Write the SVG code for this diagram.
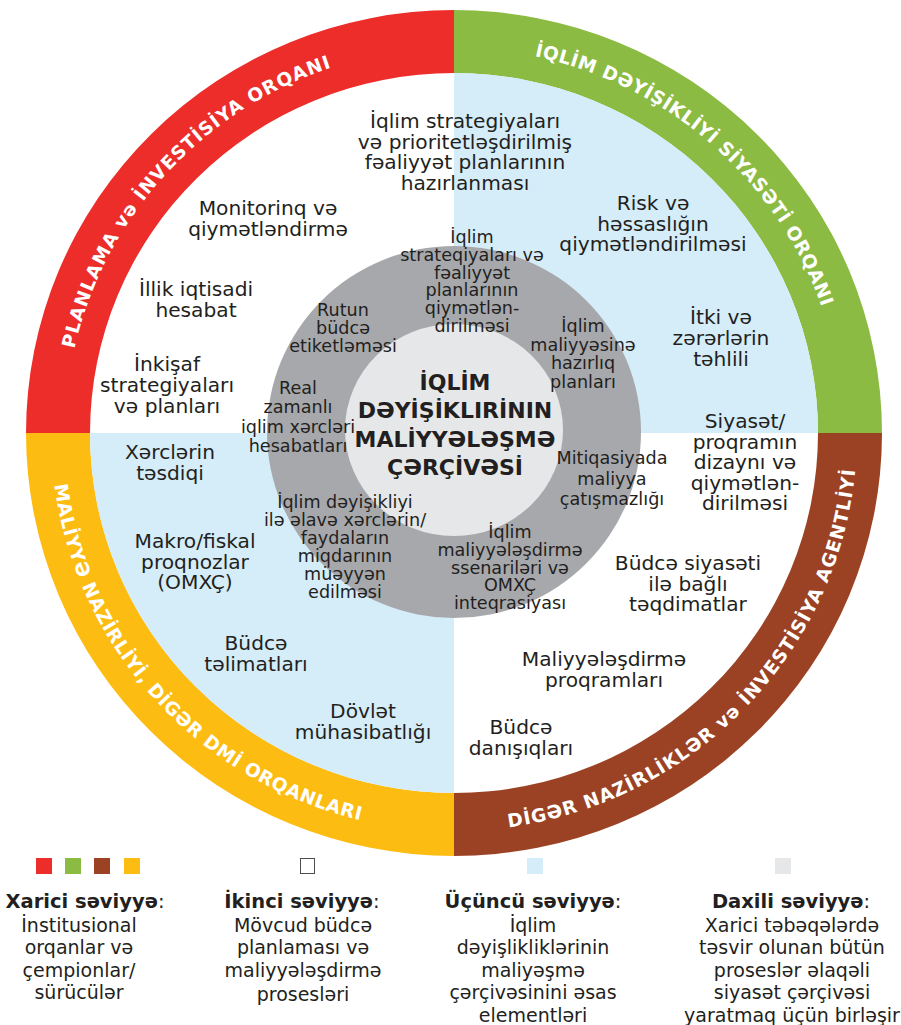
<svg xmlns="http://www.w3.org/2000/svg" width="901" height="1025" viewBox="0 0 901 1025">
<style>
.q{font-family:"DejaVu Sans","Liberation Sans",sans-serif;font-size:20.2px;fill:#231f20;text-anchor:middle}
.g{font-family:"DejaVu Sans","Liberation Sans",sans-serif;font-size:17.6px;fill:#231f20;text-anchor:middle}
.t{font-family:"DejaVu Sans","Liberation Sans",sans-serif;font-size:22px;font-weight:bold;fill:#231f20;text-anchor:middle}
.r{font-family:"DejaVu Sans","Liberation Sans",sans-serif;font-size:18.5px;font-weight:bold;fill:#ffffff;text-anchor:middle}
.lh{font-family:"DejaVu Sans","Liberation Sans",sans-serif;font-size:19.5px;font-weight:bold;fill:#231f20;text-anchor:middle}
.lb{font-family:"DejaVu Sans","Liberation Sans",sans-serif;font-size:19px;fill:#231f20;text-anchor:middle}
</style>
<defs>
<path id="pRed" d="M 65,433 A 389,385 0 0 1 454,48"/>
<path id="pGreen" d="M 454,48 A 389,385 0 0 1 843,433"/>
<path id="pYellow" d="M 51,433 A 403,398 0 0 0 454,831"/>
<path id="pBrown" d="M 454,831 A 403,398 0 0 0 857,433"/>
</defs>
<rect width="901" height="1025" fill="#ffffff"/>
<g id="ring">
<path id="ring-red" d="M 26,433 A 428,423 0 0 1 454,10 L 454,73 A 364,360 0 0 0 90,433 Z" fill="#ec2d2a"/>
<path id="ring-green" d="M 454,10 A 428,423 0 0 1 882,433 L 818,433 A 364,360 0 0 0 454,73 Z" fill="#8cbb43"/>
<path id="ring-brown" d="M 882,433 A 428,423 0 0 1 454,856 L 454,793 A 364,360 0 0 0 818,433 Z" fill="#9c4224"/>
<path id="ring-yellow" d="M 454,856 A 428,423 0 0 1 26,433 L 90,433 A 364,360 0 0 0 454,793 Z" fill="#fdbc12"/>
</g>
<g id="quadrants">
<path d="M 454,433 L 454,73 A 364,360 0 0 1 818,433 Z" fill="#d5ecf9"/>
<path d="M 454,433 L 90,433 A 364,360 0 0 0 454,793 Z" fill="#d5ecf9"/>
</g>
<g id="core">
<ellipse cx="454" cy="432" rx="187" ry="186" fill="#a7a8ab"/>
<ellipse cx="454" cy="430" rx="109" ry="106" fill="#e6e7e8"/>
</g>
<g id="ring-labels">
<text class="r"><textPath href="#pRed" startOffset="46.7%" textLength="398" lengthAdjust="spacing">PLANLAMA və İNVESTİSİYA ORQANI</textPath></text>
<text class="r"><textPath href="#pGreen" startOffset="46.1%" textLength="398" lengthAdjust="spacing">İQLİM DƏYİŞİKLİYİ SİYASƏTİ ORQANI</textPath></text>
<text class="r"><textPath href="#pYellow" startOffset="46.6%" textLength="482" lengthAdjust="spacing">MALİYYƏ NAZİRLİYİ, DİGƏR DMİ ORQANLARI</textPath></text>
<text class="r"><textPath href="#pBrown" startOffset="51.4%" textLength="537" lengthAdjust="spacing">DİGƏR NAZİRLİKLƏR və İNVESTİSİYA AGENTLİYİ</textPath></text>
</g>
<g id="title"><text class="t" y="390"><tspan x="455">İQLİM</tspan><tspan x="455" dy="28.3">DƏYİŞİKLIRİNIN</tspan><tspan x="455" dy="28.3">MALİYYƏLƏŞMƏ</tspan><tspan x="455" dy="28.3">ÇƏRÇİVƏSİ</tspan></text></g>
<g id="n-q1"><text class="q" y="128"><tspan x="465">İqlim strategiyaları</tspan><tspan x="465" dy="20.5">və prioritetləşdirilmiş</tspan><tspan x="465" dy="20.5">fəaliyyət planlarının</tspan><tspan x="465" dy="20.5">hazırlanması</tspan></text></g>
<g id="n-q2"><text class="q" y="215"><tspan x="268">Monitorinq və</tspan><tspan x="268" dy="21">qiymətləndirmə</tspan></text></g>
<g id="n-q3"><text class="q" y="296"><tspan x="196">İllik iqtisadi</tspan><tspan x="196" dy="20.5">hesabat</tspan></text></g>
<g id="n-q4"><text class="q" y="371"><tspan x="167">İnkişaf</tspan><tspan x="167" dy="21">strategiyaları</tspan><tspan x="167" dy="21">və planları</tspan></text></g>
<g id="n-q5"><text class="q" y="210"><tspan x="653">Risk və</tspan><tspan x="653" dy="20.5">həssaslığın</tspan><tspan x="653" dy="20.5">qiymətləndirilməsi</tspan></text></g>
<g id="n-q6"><text class="q" y="324"><tspan x="721">İtki və</tspan><tspan x="721" dy="21">zərərlərin</tspan><tspan x="721" dy="21">təhlili</tspan></text></g>
<g id="n-q7"><text class="q" y="428"><tspan x="745">Siyasət/</tspan><tspan x="745" dy="20.5">proqramın</tspan><tspan x="745" dy="20.5">dizaynı və</tspan><tspan x="745" dy="20.5">qiymətlən-</tspan><tspan x="745" dy="20.5">dirilməsi</tspan></text></g>
<g id="n-q8"><text class="q" y="459"><tspan x="170">Xərclərin</tspan><tspan x="170" dy="20.5">təsdiqi</tspan></text></g>
<g id="n-q9"><text class="q" y="548"><tspan x="195">Makro/fiskal</tspan><tspan x="195" dy="20.5">proqnozlar</tspan><tspan x="195" dy="20.5">(OMXÇ)</tspan></text></g>
<g id="n-q10"><text class="q" y="650"><tspan x="256">Büdcə</tspan><tspan x="256" dy="20.5">təlimatları</tspan></text></g>
<g id="n-q11"><text class="q" y="718"><tspan x="363">Dövlət</tspan><tspan x="363" dy="21">mühasibatlığı</tspan></text></g>
<g id="n-q12"><text class="q" y="570"><tspan x="688">Büdcə siyasəti</tspan><tspan x="688" dy="20.5">ilə bağlı</tspan><tspan x="688" dy="20.5">təqdimatlar</tspan></text></g>
<g id="n-q13"><text class="q" y="666"><tspan x="604">Maliyyələşdirmə</tspan><tspan x="604" dy="21">proqramları</tspan></text></g>
<g id="n-q14"><text class="q" y="734"><tspan x="521">Büdcə</tspan><tspan x="521" dy="21">danışıqları</tspan></text></g>
<g id="n-g1"><text class="g" y="316"><tspan x="343">Rutun</tspan><tspan x="343" dy="17.8">büdcə</tspan><tspan x="343" dy="17.8">etiketləməsi</tspan></text></g>
<g id="n-g2"><text class="g" y="243"><tspan x="472">İqlim</tspan><tspan x="472" dy="17.8">strateqiyaları və</tspan><tspan x="472" dy="17.8">fəaliyyət</tspan><tspan x="472" dy="17.8">planlarının</tspan><tspan x="472" dy="17.8">qiymətlən-</tspan><tspan x="472" dy="17.8">dirilməsi</tspan></text></g>
<g id="n-g3"><text class="g" y="332"><tspan x="583">İqlim</tspan><tspan x="583" dy="18.7">maliyyəsinə</tspan><tspan x="583" dy="18.7">hazırlıq</tspan><tspan x="583" dy="18.7">planları</tspan></text></g>
<g id="n-g4"><text class="g" y="394"><tspan x="298">Real</tspan><tspan x="298" dy="19.3">zamanlı</tspan><tspan x="298" dy="19.3">iqlim xərcləri</tspan><tspan x="298" dy="19.3">hesabatları</tspan></text></g>
<g id="n-g5"><text class="g" y="464"><tspan x="612">Mitiqasiyada</tspan><tspan x="612" dy="20.5">maliyya</tspan><tspan x="612" dy="20.5">çatışmazlığı</tspan></text></g>
<g id="n-g6"><text class="g" y="508"><tspan x="345">İqlim dəyişikliyi</tspan><tspan x="345" dy="18">ilə əlavə xərclərin/</tspan><tspan x="345" dy="18">faydaların</tspan><tspan x="345" dy="18">miqdarının</tspan><tspan x="345" dy="18">müəyyən</tspan><tspan x="345" dy="18">edilməsi</tspan></text></g>
<g id="n-g7"><text class="g" y="538"><tspan x="510">İqlim</tspan><tspan x="510" dy="17.8">maliyyələşdirmə</tspan><tspan x="510" dy="17.8">ssenariləri və</tspan><tspan x="510" dy="17.8">OMXÇ</tspan><tspan x="510" dy="17.8">inteqrasiyası</tspan></text></g>
<g id="legend">
<rect x="36" y="858" width="16" height="16" fill="#ec2d2a"/>
<rect x="65" y="858" width="16" height="16" fill="#8cbb43"/>
<rect x="94" y="858" width="16" height="16" fill="#9c4224"/>
<rect x="124" y="858" width="16" height="16" fill="#fdbc12"/>
<rect x="300.5" y="858.5" width="14" height="15" fill="#ffffff" stroke="#4d4d4f" stroke-width="1"/>
<rect x="527" y="858" width="16" height="16" fill="#d5ecf9"/>
<rect x="775" y="858" width="16" height="16" fill="#e6e7e8"/>
<text class="lh" x="85" y="908">Xarici səviyyə<tspan font-weight="normal">:</tspan></text>
<text class="lh" x="302" y="908">İkinci səviyyə<tspan font-weight="normal">:</tspan></text>
<text class="lh" x="533" y="908">Üçüncü səviyyə<tspan font-weight="normal">:</tspan></text>
<text class="lh" x="791" y="908">Daxili səviyyə<tspan font-weight="normal">:</tspan></text>
<text class="lb" y="932"><tspan x="79">İnstitusional</tspan><tspan x="79" dy="22.4">orqanlar və</tspan><tspan x="79" dy="22.4">çempionlar/</tspan><tspan x="79" dy="22.4">sürücülər</tspan></text>
<text class="lb" y="932"><tspan x="303">Mövcud büdcə</tspan><tspan x="303" dy="22.4">planlaması və</tspan><tspan x="303" dy="22.4">maliyyələşdirmə</tspan><tspan x="303" dy="24">prosesləri</tspan></text>
<text class="lb" y="932"><tspan x="533">İqlim</tspan><tspan x="533" dy="22.4">dəyişlikliklərinin</tspan><tspan x="533" dy="22.4">maliyəşmə</tspan><tspan x="533" dy="22.4">çərçivəsinini əsas</tspan><tspan x="533" dy="22.4">elementləri</tspan></text>
<text class="lb" y="932"><tspan x="792">Xarici təbəqələrdə</tspan><tspan x="792" dy="22.4">təsvir olunan bütün</tspan><tspan x="792" dy="22.4">proseslər əlaqəli</tspan><tspan x="792" dy="22.4">siyasət çərçivəsi</tspan><tspan x="792" dy="22.4">yaratmaq üçün birləşir</tspan></text>
</g>
</svg>
